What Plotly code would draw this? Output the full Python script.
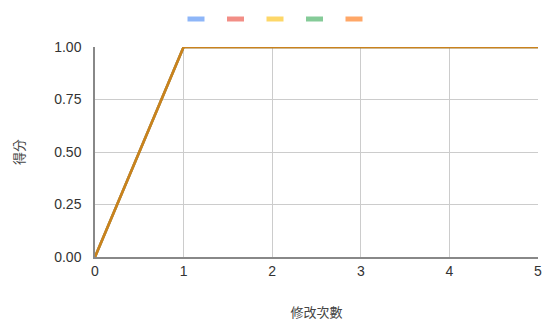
import plotly.graph_objects as go

# Revision count on the x axis, score on the y axis
revisions = [0, 1, 2, 3, 4, 5]
series_a = [0, 1, 1, 1, 1, 1]
series_b = [0, 1, 1, 1, 1, 1]
series_c = [0, 1, 1, 1, 1, 1]
series_d = [0, 1, 1, 1, 1, 1]
series_e = [0, 1, 1, 1, 1, 1]

series = [series_a, series_b, series_c, series_d, series_e]
colors = ["#4285f4", "#ea4335", "#fbbc04", "#34a853", "#ff6d01"]
score_ticks = [0, 0.25, 0.5, 0.75, 1.0]

W, H = 542, 323
L, R, T, B = 95, 4, 47, 66
plot_w, plot_h = W - L - R, H - T - B

fig = go.Figure()
for values, color in zip(series, colors):
    fig.add_trace(go.Scatter(
        x=revisions, y=values, mode="lines", name="", showlegend=False,
        line=dict(color=color, width=2.5), opacity=0.6,
        cliponaxis=False,
    ))

# Compact legend swatches above the plot, one per series
swatch_w, swatch_h, swatch_gap = 17, 5, 39.5
first_center = 196
legend_y = 19
for i, color in enumerate(colors):
    cx = first_center + i * swatch_gap
    fig.add_shape(
        type="rect", xref="paper", yref="paper",
        x0=(cx - swatch_w / 2 - L) / plot_w, x1=(cx + swatch_w / 2 - L) / plot_w,
        y0=(H - B - (legend_y + swatch_h / 2)) / plot_h,
        y1=(H - B - (legend_y - swatch_h / 2)) / plot_h,
        fillcolor=color, opacity=0.6, line=dict(width=0),
    )

axis_font = dict(family="Liberation Sans, Arial, sans-serif", size=14, color="#333333")
title_font = dict(family="Noto Sans CJK TC", size=13, color="#444444")

fig.update_layout(
    width=W, height=H,
    margin=dict(l=L, r=R, t=T, b=B, autoexpand=False),
    paper_bgcolor="white", plot_bgcolor="white",
    font=dict(family="Liberation Sans, Arial, sans-serif", color="#444444"),
    showlegend=False,
    xaxis=dict(
        range=[0, 5], tickvals=revisions, ticktext=[str(v) for v in revisions],
        showgrid=True, gridcolor="#cccccc", gridwidth=1,
        showline=True, linecolor="#888888", linewidth=1.5,
        zeroline=False, ticks="", ticklabeloverflow="allow", automargin=False,
        tickfont=axis_font,
        title=dict(text="修改次數", font=title_font, standoff=30),
    ),
    yaxis=dict(
        range=[0, 1], tickvals=score_ticks, tickformat=".2f",
        showgrid=True, gridcolor="#cccccc", gridwidth=1,
        showline=True, linecolor="#888888", linewidth=1.5,
        zeroline=False, ticks="outside", ticklen=9, tickcolor="rgba(0,0,0,0)",
        automargin=False, tickfont=axis_font,
        title=dict(text="得分", font=title_font, standoff=27),
    ),
)

fig.write_html("out.html")
